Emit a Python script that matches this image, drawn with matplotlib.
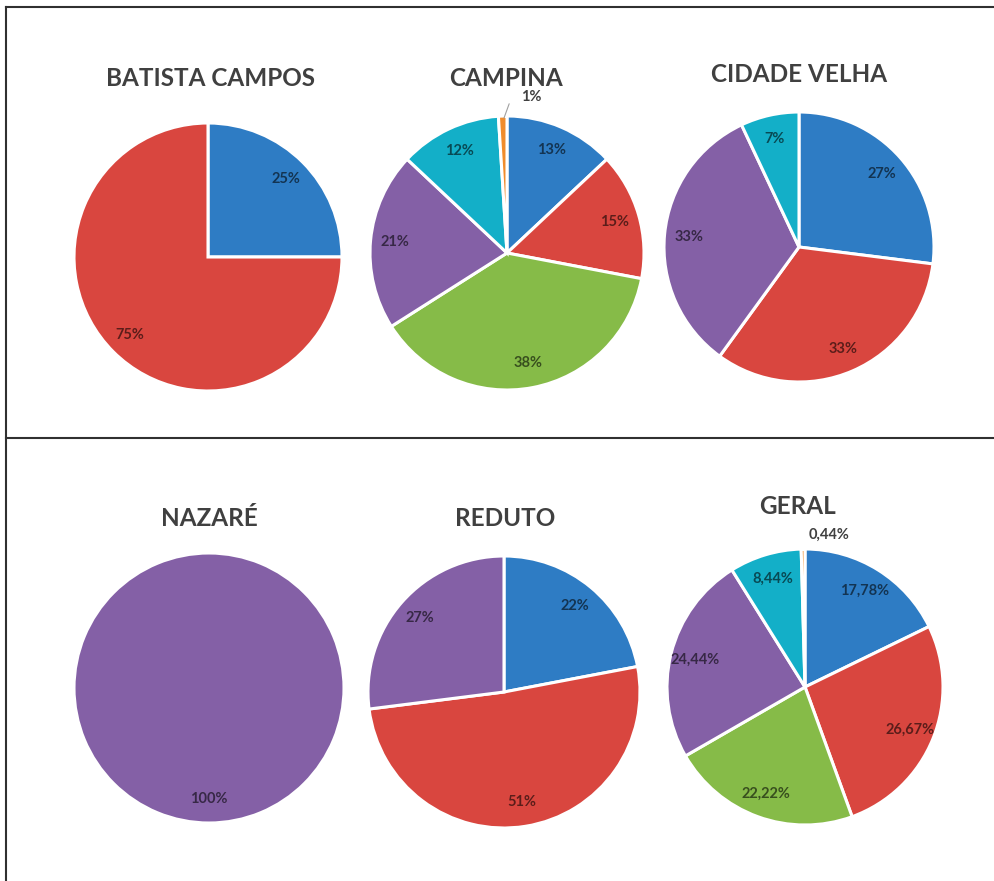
import numpy as np
import matplotlib.pyplot as plt
from matplotlib.colors import to_rgb
from matplotlib.lines import Line2D

# category colours (Excel-like palette)
cat_colors = {
    'azul': '#2E7CC4',
    'vermelho': '#D9463F',
    'verde': '#86BB48',
    'roxo': '#8460A6',
    'ciano': '#13AFC8',
    'laranja': '#F08C2C',
}

titles = ['BATISTA CAMPOS', 'CAMPINA', 'CIDADE VELHA', 'NAZARÉ', 'REDUTO', 'GERAL']

batista_cats = ['azul', 'vermelho']
batista_vals = [25, 75]

campina_cats = ['azul', 'vermelho', 'verde', 'roxo', 'ciano', 'laranja']
campina_vals = [13, 15, 38, 21, 12, 1]

cidade_cats = ['azul', 'vermelho', 'roxo', 'ciano']
cidade_vals = [27, 33, 33, 7]

nazare_cats = ['roxo']
nazare_vals = [100]

reduto_cats = ['azul', 'vermelho', 'roxo']
reduto_vals = [22, 51, 27]

geral_cats = ['azul', 'vermelho', 'verde', 'roxo', 'ciano', 'laranja']
geral_vals = [17.78, 26.67, 22.22, 24.44, 8.44, 0.44]

W, H = 994, 881
fig = plt.figure(figsize=(W / 100, H / 100), dpi=100)
ax = fig.add_axes([0, 0, 1, 1])
ax.set_xlim(0, W)
ax.set_ylim(0, H)
ax.set_aspect('equal')
ax.axis('off')

FONT = 'Lato'


def dark(c, f=0.42):
    r, g, b = to_rgb(c)
    return (r * f, g * f, b * f)


def draw_pie(cats, vals, cx, cy, r, title, tx, ty, decimals=False, outside=None):
    cols = [cat_colors[c] for c in cats]
    ax.pie(vals, colors=cols, startangle=90, counterclock=False,
           center=(cx, H - cy), radius=r, frame=True,
           wedgeprops=dict(edgecolor='white', linewidth=2.2))
    total = sum(vals)
    start = 90.0
    for i, (v, c) in enumerate(zip(vals, cols)):
        sweep = 360.0 * v / total
        mid = np.deg2rad(start - sweep / 2)
        start -= sweep
        if decimals:
            txt = f'{v:.2f}'.replace('.', ',') + '%'
        else:
            txt = f'{v:.0f}%'
        if outside is not None and i == len(vals) - 1:
            continue
        d = 0.82 * r
        ax.text(cx + d * np.cos(mid), H - cy + d * np.sin(mid), txt,
                ha='center', va='center', fontsize=10.5, fontweight='bold',
                color=dark(c), family=FONT)
    if outside is not None:
        v = vals[-1]
        txt = (f'{v:.2f}'.replace('.', ',') if decimals else f'{v:.0f}') + '%'
        ox, oy, line = outside
        if line:
            ax.annotate(txt, xy=(cx - 3, H - cy + r - 2), xytext=(ox, H - oy),
                        ha='center', va='center', fontsize=10.5, fontweight='bold',
                        color='#404040', family=FONT,
                        arrowprops=dict(arrowstyle='-', color='#A0A0A0', lw=0.8,
                                        connectionstyle='angle,angleA=0,angleB=70,rad=0',
                                        shrinkA=8, shrinkB=0))
        else:
            ax.text(ox, H - oy, txt, ha='center', va='center', fontsize=10.5,
                    fontweight='bold', color='#404040', family=FONT)
    ax.text(tx, H - ty, title, ha='center', va='center', fontsize=17.5,
            fontweight='bold', color='#404040', family=FONT)


draw_pie(batista_cats, batista_vals, 208, 257, 134, titles[0], 210, 78)
draw_pie(campina_cats, campina_vals, 507, 253, 137, titles[1], 506, 78,
         outside=(531, 97, True))
draw_pie(cidade_cats, cidade_vals, 799, 247, 135, titles[2], 799, 75)
draw_pie(nazare_cats, nazare_vals, 209, 688, 135, titles[3], 209, 518)
draw_pie(reduto_cats, reduto_vals, 504, 692, 136, titles[4], 505, 518)
draw_pie(geral_cats, geral_vals, 805, 687, 138, titles[5], 797, 507,
         decimals=True, outside=(829, 535, False))

ax.set_xlim(0, W)
ax.set_ylim(0, H)
ax.axis('off')

# panel borders
lc = '#303030'
fig.add_artist(Line2D([6 / W, 1], [1 - 7 / H, 1 - 7 / H], color=lc, lw=1.5))
fig.add_artist(Line2D([6 / W, 6 / W], [0, 1 - 7 / H], color=lc, lw=1.5))
fig.add_artist(Line2D([6 / W, 1], [1 - 438 / H, 1 - 438 / H], color=lc, lw=1.5))

fig.savefig('out.png', dpi=100, facecolor='white')
